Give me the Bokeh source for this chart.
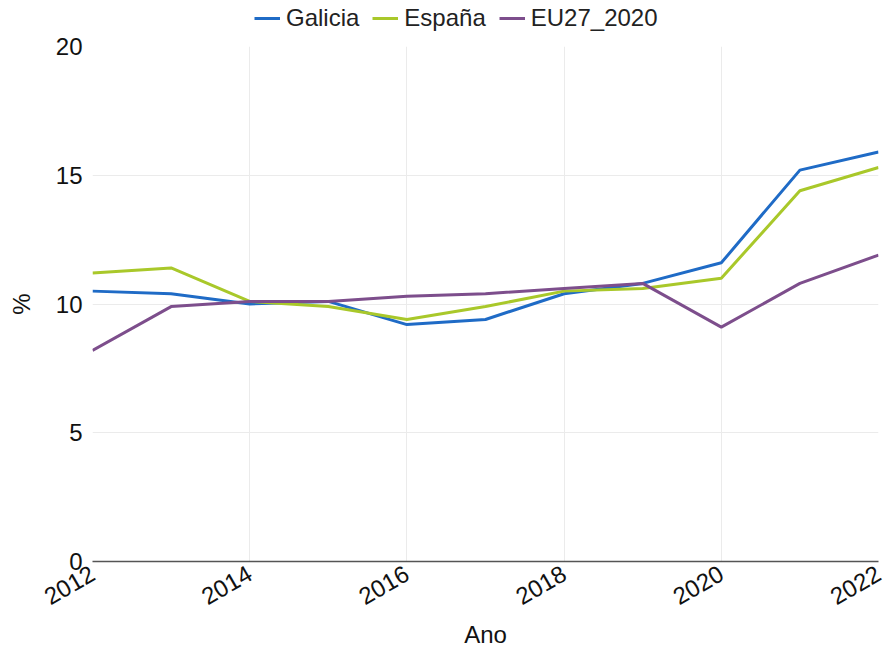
import math
from bokeh.plotting import figure
from bokeh.layouts import column
from bokeh.models import Legend, LegendItem, FixedTicker
from bokeh.embed import file_html
from bokeh.resources import INLINE

years = [2012, 2013, 2014, 2015, 2016, 2017, 2018, 2019, 2020, 2021, 2022]
galicia = [10.5, 10.4, 10.0, 10.1, 9.2, 9.4, 10.4, 10.8, 11.6, 15.2, 15.9]
espana = [11.2, 11.4, 10.1, 9.9, 9.4, 9.9, 10.5, 10.6, 11.0, 14.4, 15.3]
eu27 = [8.2, 9.9, 10.1, 10.1, 10.3, 10.4, 10.6, 10.8, 9.1, 10.8, 11.9]
series_names = ["Galicia", "España", "EU27_2020"]
colors = ["#1f6bc6", "#a9c82a", "#7d4e8c"]
x_ticks = [2012, 2014, 2016, 2018, 2020, 2022]
y_ticks = [0, 5, 10, 15, 20]

FONT = "Liberation Sans"
all_series = [galicia, espana, eu27]

# header figure holding the legend (its lines lie outside its view)
h = figure(width=889, height=34, x_range=(0, 1), y_range=(0, 1),
           output_backend="svg", toolbar_location=None,
           min_border_left=92, min_border_right=11, min_border_top=0, min_border_bottom=0)
h.axis.visible = False
h.grid.visible = False
h.outline_line_color = None
leg_r = []
for ys, c in zip(all_series, colors):
    leg_r.append(h.line(years, ys, line_color=c, line_width=3))
legend = Legend(items=[LegendItem(label=n, renderers=[r]) for n, r in zip(series_names, leg_r)],
                orientation="horizontal", location=(162, 2),
                label_text_font=FONT, label_text_font_size="24px", label_text_color="#222222",
                glyph_width=26, spacing=13, label_standoff=6, padding=0, margin=0,
                border_line_color=None, background_fill_alpha=0)
h.add_layout(legend, "center")

p = figure(width=889, height=621, x_range=(2012, 2022), y_range=(0, 20),
           output_backend="svg", toolbar_location=None,
           min_border_left=92, min_border_right=11, min_border_top=12, min_border_bottom=94)
p.outline_line_color = None

for ys, c in zip(all_series, colors):
    p.line(years, ys, line_color=c, line_width=3)

p.xaxis.ticker = FixedTicker(ticks=x_ticks)
p.yaxis.ticker = FixedTicker(ticks=y_ticks)
p.xaxis.major_label_orientation = math.pi / 6
for ax in (p.xaxis, p.yaxis):
    ax.major_label_text_font = FONT
    ax.major_label_text_font_size = "24px"
    ax.major_label_text_color = "#111111"
    ax.axis_label_text_font = FONT
    ax.axis_label_text_font_size = "24px"
    ax.axis_label_text_font_style = "normal"
    ax.axis_label_text_color = "#111111"
    ax.major_tick_line_color = None
    ax.minor_tick_line_color = None
p.xaxis.axis_label = "Ano"
p.yaxis.axis_label = "%"
p.yaxis.axis_line_color = None
p.xaxis.axis_line_color = "#555555"
p.xaxis.axis_line_width = 1.5
p.xgrid.grid_line_color = "#ebebeb"
p.ygrid.grid_line_color = "#ebebeb"
p.xaxis.major_label_standoff = 4
p.yaxis.major_label_standoff = 4
p.yaxis.axis_label_standoff = 18

layout = column(h, p, spacing=0)
open("out.html", "w").write(file_html(layout, INLINE))
